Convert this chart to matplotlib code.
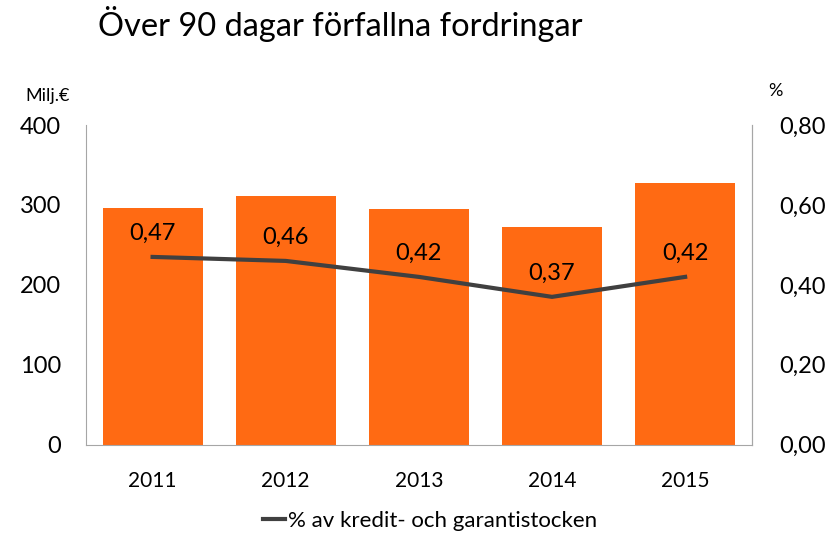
import matplotlib
matplotlib.use("Agg")
import matplotlib.pyplot as plt
from matplotlib.lines import Line2D

plt.rcParams["font.family"] = ["Lato", "DejaVu Sans"]
ORANGE, LINE, SPINE = "#FF6A13", "#404040", "#A6A6A6"

years = ["2011", "2012", "2013", "2014", "2015"]
mill_eur = [296, 311, 295, 273, 328]        # bars, left axis
pct = [0.47, 0.46, 0.42, 0.37, 0.42]        # line, right axis
pct_labels = ["0,47", "0,46", "0,42", "0,37", "0,42"]
left_ticks = [0, 100, 200, 300, 400]
right_ticks = [0.0, 0.2, 0.4, 0.6, 0.8]
right_labels = ["0,00", "0,20", "0,40", "0,60", "0,80"]

fig = plt.figure(figsize=(8.4, 5.37), dpi=100)
ax = fig.add_axes([0.1024, 0.172, 0.7925, 0.595])
x = list(range(len(years)))
ax.bar(x, mill_eur, width=0.75, color=ORANGE, zorder=2)
ax.set_xlim(-0.5, len(years) - 0.5); ax.set_ylim(0, 400)
ax.set_yticks(left_ticks); ax.set_xticks(x); ax.set_xticklabels(years)
ax.tick_params(axis="y", length=0, labelsize=17, pad=18)
ax.tick_params(axis="x", length=0, labelsize=15, pad=19)
ax.spines["top"].set_visible(False)
for s in ("left", "bottom", "right"):
    ax.spines[s].set_color(SPINE)

ax2 = ax.twinx()
ax2.plot(x, pct, color=LINE, lw=3, zorder=3)
ax2.set_ylim(0, 0.8); ax2.set_yticks(right_ticks); ax2.set_yticklabels(right_labels)
ax2.tick_params(axis="y", length=0, labelsize=17, pad=20)
for s in ("top", "left", "bottom"):
    ax2.spines[s].set_visible(False)
ax2.spines["right"].set_color(SPINE)
for xi, v, t in zip(x, pct, pct_labels):
    ax2.annotate(t, (xi, v), xytext=(0, 17), textcoords="offset points",
                 ha="center", va="center", fontsize=17, color="black")

fig.text(98 / 840, 1 - 24 / 537, "Över 90 dagar förfallna fordringar", fontsize=23.5,
         ha="left", va="center")
fig.text(48 / 840, 1 - 96 / 537, "Milj.€", fontsize=13, ha="center", va="center")
fig.text(775 / 840, 1 - 91 / 537, "%", fontsize=13, ha="center", va="center")
fig.legend(handles=[Line2D([], [], color=LINE, lw=3)], labels=["% av kredit- och garantistocken"],
           loc="center", bbox_to_anchor=(430 / 840, 1 - 521 / 537), frameon=False,
           fontsize=16, handlelength=1.0, handletextpad=0.1)
fig.savefig("out.png", dpi=100)
